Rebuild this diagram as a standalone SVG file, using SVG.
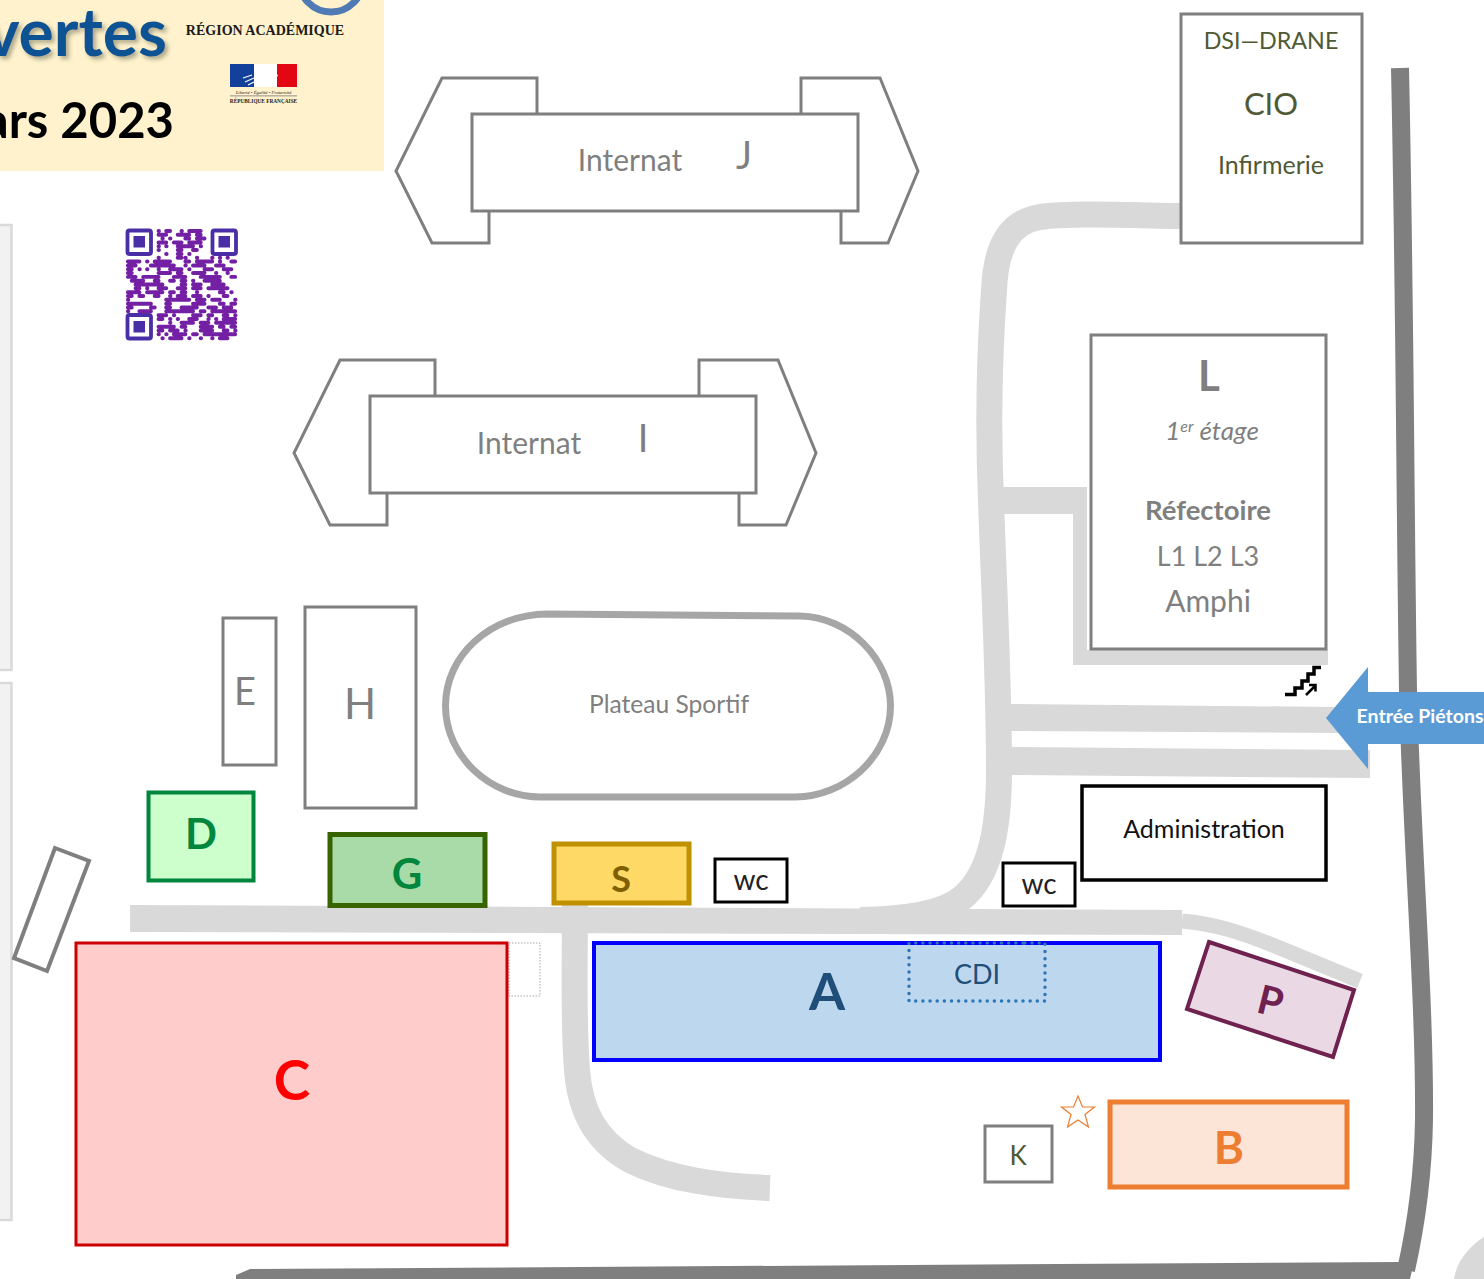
<svg xmlns="http://www.w3.org/2000/svg" width="1484" height="1279" viewBox="0 0 1484 1279">
<style>
text{font-family:Lato,"Open Sans","Liberation Sans",sans-serif;text-anchor:middle}
.g{fill:#fff;stroke:#7f7f7f;stroke-width:3}
.gt{fill:#7f7f7f}
.road{fill:none;stroke:#d9d9d9}
.bd{font-weight:700}
.ol{fill:#4f5a34}
.panel{fill:#f2f2f2;stroke:#d9d9d9;stroke-width:2.5}
.serif{font-family:"Liberation Serif",serif}
</style>
<defs>
<filter id="sh" x="-10%" y="-10%" width="125%" height="130%"><feDropShadow dx="3" dy="3" stdDeviation="2" flood-color="#8a8a70" flood-opacity=".7"/></filter>
</defs>
<rect width="1484" height="1279" fill="#fff"/>
<g id="header">
<rect x="0" y="0" width="384" height="171" fill="#fff2cc"/>
<text x="167" y="56" style="text-anchor:end;font-size:66px;font-weight:700" fill="#0b5394" filter="url(#sh)">vertes</text>
<text x="174" y="138" style="text-anchor:end;font-size:49px;font-weight:700" fill="#000">ars 2023</text>
<circle cx="331" cy="-20" r="32" fill="none" stroke="#4f7ab3" stroke-width="7"/>
<text class="serif" x="265" y="35" style="font-size:14px;font-weight:700" fill="#1a1a1a">RÉGION ACADÉMIQUE</text>
<rect x="230" y="64" width="24" height="23" fill="#12409a"/>
<rect x="254" y="64" width="43" height="23" fill="#fff"/>
<rect x="277" y="64" width="20" height="23" fill="#e30613"/>
<path d="M243 78l9-3M245 82l9-4M248 85l6-3" stroke="#fff" stroke-width="1.200" fill="none"/>
<path d="M258 87c0-8 2-10 4-13-3-4 3-10 9-9 3 1 5 4 5 7l2 4-3 2c0 4-2 5-6 4l-2 5z" fill="#fff"/>
<text class="serif" x="263.500" y="94" style="font-size:4.800px;font-style:italic" fill="#222">Liberté • Égalité • Fraternité</text>
<rect x="230" y="95.500" width="67" height=".8" fill="#777"/>
<text class="serif" x="263.500" y="103" style="font-size:5.300px;font-weight:700" fill="#222">RÉPUBLIQUE FRANÇAISE</text>
</g>
<g id="qr">
<g fill="none" stroke="#4a2ea5">
<rect x="127.500" y="230.500" width="23.500" height="23.500" rx="2" stroke-width="3.800"/>
<rect x="212.500" y="230.500" width="23.500" height="23.500" rx="2" stroke-width="3.800"/>
<rect x="127.500" y="315" width="23.500" height="23.500" rx="2" stroke-width="3.800"/>
</g>
<rect x="133.500" y="236" width="11.500" height="11.500" fill="#4a2ea5"/>
<rect x="218.500" y="236" width="11.500" height="11.500" fill="#4a2ea5"/>
<rect x="133.500" y="321" width="11.500" height="11.500" fill="#4a2ea5"/>
<path transform="translate(126,229) scale(3.83)" fill="none" stroke="#7420a5" stroke-width="1.040" stroke-linecap="round" d="M8.500 .5h.1M10.500 .5h1M14.500 .5h.1M16.500 .5h3M8.500 1.500h2M13.500 1.500h3M18.500 1.500h1M9.500 2.500h.1M11.500 2.500h.1M15.500 2.500h1M18.500 2.500h2M8.500 3.500h2M12.500 3.500h2M16.500 3.500h3M8.500 4.500h.1M10.500 4.500h.1M13.500 4.500h4M19.500 4.500h.1M8.500 5.500h.1M13.500 5.500h1M17.500 5.500h1M10.500 6.500h.1M13.500 6.500h1M16.500 6.500h.1M8.500 7.500h.1M13.500 7.500h1M15.500 7.500h.1M18.500 7.500h.1M22.500 7.500h.1M24.500 7.500h.1M26.500 7.500h.1M0.500 8.500h3M5.500 8.500h.1M7.500 8.500h4M15.500 8.500h1M18.500 8.500h4M24.500 8.500h.1M27.500 8.500h1M0.500 9.500h2M6.500 9.500h6M15.500 9.500h.1M17.500 9.500h3M23.500 9.500h2M0.500 10.500h1M3.500 10.500h.1M5.500 10.500h.1M8.500 10.500h.1M11.500 10.500h3M16.500 10.500h.1M20.500 10.500h2M25.500 10.500h2M0.500 11.500h1M8.500 11.500h3M13.500 11.500h1M17.500 11.500h3M23.500 11.500h.1M26.500 11.500h.1M0.500 12.500h2M4.500 12.500h4M12.500 12.500h3M19.500 12.500h5M27.500 12.500h1M1.500 13.500h3M7.500 13.500h1M11.500 13.500h1M14.500 13.500h1M17.500 13.500h.1M20.500 13.500h4M2.500 14.500h7M14.500 14.500h1M17.500 14.500h2M22.500 14.500h3M2.500 15.500h1M5.500 15.500h.1M8.500 15.500h2M13.500 15.500h2M17.500 15.500h2M21.500 15.500h5M0.500 16.500h3M5.500 16.500h4M11.500 16.500h1M14.500 16.500h1M18.500 16.500h.1M24.500 16.500h1M27.500 16.500h.1M0.500 17.500h1M3.500 17.500h1M7.500 17.500h1M11.500 17.500h.1M13.500 17.500h2M17.500 17.500h2M21.500 17.500h.1M25.500 17.500h1M0.500 18.500h.1M10.500 18.500h6M18.500 18.500h2M22.500 18.500h2M28.500 18.500h.1M0.500 19.500h6M10.500 19.500h1M17.500 19.500h3M24.500 19.500h1M27.500 19.500h1M0.500 20.500h1M6.500 20.500h1M10.500 20.500h1M14.500 20.500h4M21.500 20.500h2M25.500 20.500h2M0.500 21.500h.1M3.500 21.500h3M10.500 21.500h7M19.500 21.500h1M22.500 21.500h6M8.500 22.500h2M12.500 22.500h.1M17.500 22.500h2M21.500 22.500h1M25.500 22.500h1M28.500 22.500h.1M8.500 23.500h1M11.500 23.500h.1M13.500 23.500h.1M16.500 23.500h2M21.500 23.500h.1M23.500 23.500h.1M25.500 23.500h3M11.500 24.500h.1M14.500 24.500h3M19.500 24.500h2M23.500 24.500h5M8.500 25.500h4M14.500 25.500h1M19.500 25.500h3M24.500 25.500h1M27.500 25.500h1M8.500 26.500h1M11.500 26.500h2M15.500 26.500h.1M19.500 26.500h3M25.500 26.500h1M28.500 26.500h.1M8.500 27.500h.1M10.500 27.500h.1M12.500 27.500h3M17.500 27.500h1M20.500 27.500h8M9.500 28.500h.1M11.500 28.500h3M16.500 28.500h.1M19.500 28.500h.1M22.500 28.500h.1M24.500 28.500h2"/>
</g>
<g id="panels">
<rect class="panel" x="-5" y="225" width="16.500" height="445"/>
<rect class="panel" x="-5" y="683" width="16.500" height="537"/>
</g>
<g id="connectors">
<path fill="#d9d9d9" d="M130 905L1182 910V935L130 932Z"/>
<path class="road" stroke-width="26" d="M1180 216C1120 215 1070 213 1040 217C1010 222 996 245 994 290C989 360 988 430 991 500C994 590 999 680 999 770C999 830 990 875 962 898C945 912 910 919 860 920"/>
<path fill="#d9d9d9" d="M1002 487H1087V650H1328V665H1073V514H1002Z"/>
<path fill="#d9d9d9" d="M1005 704L1340 707V733L1005 731ZM1005 747L1370 750V778L1005 775Z"/>
<path class="road" stroke-width="26" d="M575 905C575 960 573 1020 577 1070C580 1110 595 1140 630 1160C670 1180 720 1186 770 1188"/>
<path class="road" stroke-width="15" d="M1182 921C1215 924 1240 932 1275 946L1360 981"/>
<path fill="none" stroke="#7f7f7f" stroke-width="18" d="M1400 68C1405 300 1405 500 1408 690C1412 850 1425 1000 1424 1120C1423 1180 1415 1230 1406 1270"/>
<path fill="#7f7f7f" d="M236 1275L250 1269L1400 1262L1414 1262L1410 1279H236Z"/>
<path fill="#d9d9d9" d="M1454 1279C1457 1260 1470 1246 1484 1237V1279Z"/>
</g>
<g id="node-j">
<path class="g" d="M537 114V78H442L396 171L432 243H489V211M801 114V78H880L918 171L888 243H841V211"/>
<rect class="g" x="472" y="114" width="386" height="97"/>
<text class="gt" x="630" y="171" style="font-size:30px">Internat</text>
<text class="gt" x="744" y="169" style="font-size:38px">J</text>
</g>
<g id="node-i">
<path class="g" d="M435 396V360H340L294 453L330 525H387V493M699 396V360H778L816 453L786 525H739V493"/>
<rect class="g" x="370" y="396" width="386" height="97"/>
<text class="gt" x="529" y="454" style="font-size:30px">Internat</text>
<text class="gt" x="643" y="452" style="font-size:38px">I</text>
</g>
<g id="node-dsi">
<rect class="g" x="1181" y="14" width="181" height="229"/>
<text class="ol" x="1271" y="49" style="font-size:23.300px">DSI—DRANE</text>
<text class="ol" x="1271" y="115" style="font-size:31px">CIO</text>
<text class="ol" x="1271" y="174" style="font-size:25px">Infirmerie</text>
</g>
<g id="node-l">
<rect class="g" x="1091" y="335" width="235" height="314"/>
<text class="gt bd" x="1209" y="391" style="font-size:42px">L</text>
<text class="gt" x="1212" y="440" style="font-size:26px;font-style:italic">1<tspan dy="-8" style="font-size:16px">er</tspan><tspan dy="8"> étage</tspan></text>
<text class="gt bd" x="1208" y="520" style="font-size:27.500px">Réfectoire</text>
<text class="gt" x="1208" y="566" style="font-size:27px">L1 L2 L3</text>
<text class="gt" x="1208" y="612" style="font-size:30px">Amphi</text>
</g>
<g id="node-plateau">
<path fill="#fff" stroke="#a6a6a6" stroke-width="7" d="M547 614C490 615 445.500 655 445.500 706C445.500 756 490 797 540 797H795C845 797 890.500 756 890.500 706C890.500 660 850 617 800 616Z"/>
<path stroke="#a6a6a6" stroke-width="2.500" d="M540 798H795"/>
<text class="gt" x="669" y="713" style="font-size:24.600px">Plateau Sportif</text>
</g>
<g id="node-e">
<rect class="g" x="223" y="618" width="53" height="147"/>
<text class="gt" x="245" y="705" style="font-size:38px">E</text>
</g>
<g id="node-h">
<rect class="g" x="305" y="607" width="111" height="201"/>
<text class="gt" x="360" y="719" style="font-size:42px">H</text>
</g>
<g id="node-d">
<rect x="148.500" y="792.500" width="105" height="88" fill="#ccffcc" stroke="#00863d" stroke-width="4"/>
<text class="bd" x="201" y="849" style="font-size:42px" fill="#00863d">D</text>
</g>
<g id="node-g">
<rect x="330" y="834.500" width="155" height="71" fill="#a9dba8" stroke="#376300" stroke-width="5"/>
<text class="bd" x="407" y="889" style="font-size:42px" fill="#00863d">G</text>
</g>
<g id="node-s">
<rect x="554" y="844" width="135" height="59" fill="#ffd966" stroke="#bf9000" stroke-width="5"/>
<text class="bd" x="621" y="892" style="font-size:36px" fill="#7f6000">S</text>
</g>
<g id="node-wc1">
<rect x="715" y="859" width="72" height="43" fill="#fff" stroke="#000" stroke-width="3"/>
<text x="751" y="890" style="font-size:28px" fill="#222">wc</text>
</g>
<g id="node-wc2">
<rect x="1003" y="863" width="72" height="43" fill="#fff" stroke="#000" stroke-width="3"/>
<text x="1039" y="894" style="font-size:28px" fill="#222">wc</text>
</g>
<g id="node-admin">
<rect x="1082" y="786" width="244" height="94" fill="#fff" stroke="#000" stroke-width="3.500"/>
<text x="1204" y="838" style="font-size:25px" fill="#111">Administration</text>
</g>
<g id="node-small">
<path fill="#fff" stroke="#7f7f7f" stroke-width="4" d="M55 848L89 861L47 971L14 958Z"/>
</g>
<g id="node-annex">
<rect x="509" y="943" width="31" height="53" fill="none" stroke="#a6a6a6" stroke-width="1" stroke-dasharray="1.500 1.500"/>
</g>
<g id="node-c">
<rect x="76" y="943" width="431" height="302" fill="#ffcccc" stroke="#cc0000" stroke-width="3"/>
<text class="bd" x="292" y="1100" style="font-size:55px" fill="#ff0000">C</text>
</g>
<g id="node-a">
<rect x="594" y="943" width="566" height="117" fill="#bdd7ee" stroke="#0000ff" stroke-width="4"/>
<text class="bd" x="827" y="1010" style="font-size:52px" fill="#1f4e79">A</text>
<path fill="none" stroke="#2e75b6" stroke-width="3.500" stroke-linecap="round" stroke-dasharray="0 7.150" d="M1023 943H909V1001H1045V943H1023"/>
<text x="977" y="984" style="font-size:27px" fill="#1f4e79">CDI</text>
</g>
<g id="node-p">
<path fill="#ead9e4" stroke="#6f2150" stroke-width="4" d="M1209 942L1354 990L1333 1057L1187 1009Z"/>
<text class="bd" transform="translate(1267 1015) rotate(14)" style="font-size:40px" fill="#6f2150">P</text>
</g>
<g id="node-k">
<rect x="985" y="1126" width="67" height="56" fill="#fff" stroke="#7f7f7f" stroke-width="3"/>
<text class="ol" x="1018" y="1165" style="font-size:26px">K</text>
</g>
<g id="node-star">
<path fill="#fff" stroke="#ed7d31" stroke-width="1.200" d="M1078 1096L1082.500 1107H1094.500L1085 1114.500L1088.500 1127L1078 1120L1067.500 1127L1071 1114.500L1061.500 1107H1073.500Z"/>
</g>
<g id="node-b">
<rect x="1110" y="1102" width="237" height="85" fill="#fce4d6" stroke="#ed7d31" stroke-width="5"/>
<text class="bd" x="1229" y="1164" style="font-size:46px" fill="#ed7d31">B</text>
</g>
<g id="node-stairs">
<path fill="none" stroke="#000" stroke-width="3.500" d="M1285 694.500H1295V688H1302V681H1308V674H1314V667.500H1321"/>
<path fill="none" stroke="#000" stroke-width="2.500" d="M1306 695L1315 686M1309 685H1315.500V691.500"/>
</g>
<g id="node-entree">
<path fill="#5b9bd5" d="M1326 718L1368 667V692H1484V744H1368V769Z"/>
<text class="bd" x="1420" y="723" style="font-size:19.500px" fill="#fff">Entrée Piétons</text>
</g>
</svg>
